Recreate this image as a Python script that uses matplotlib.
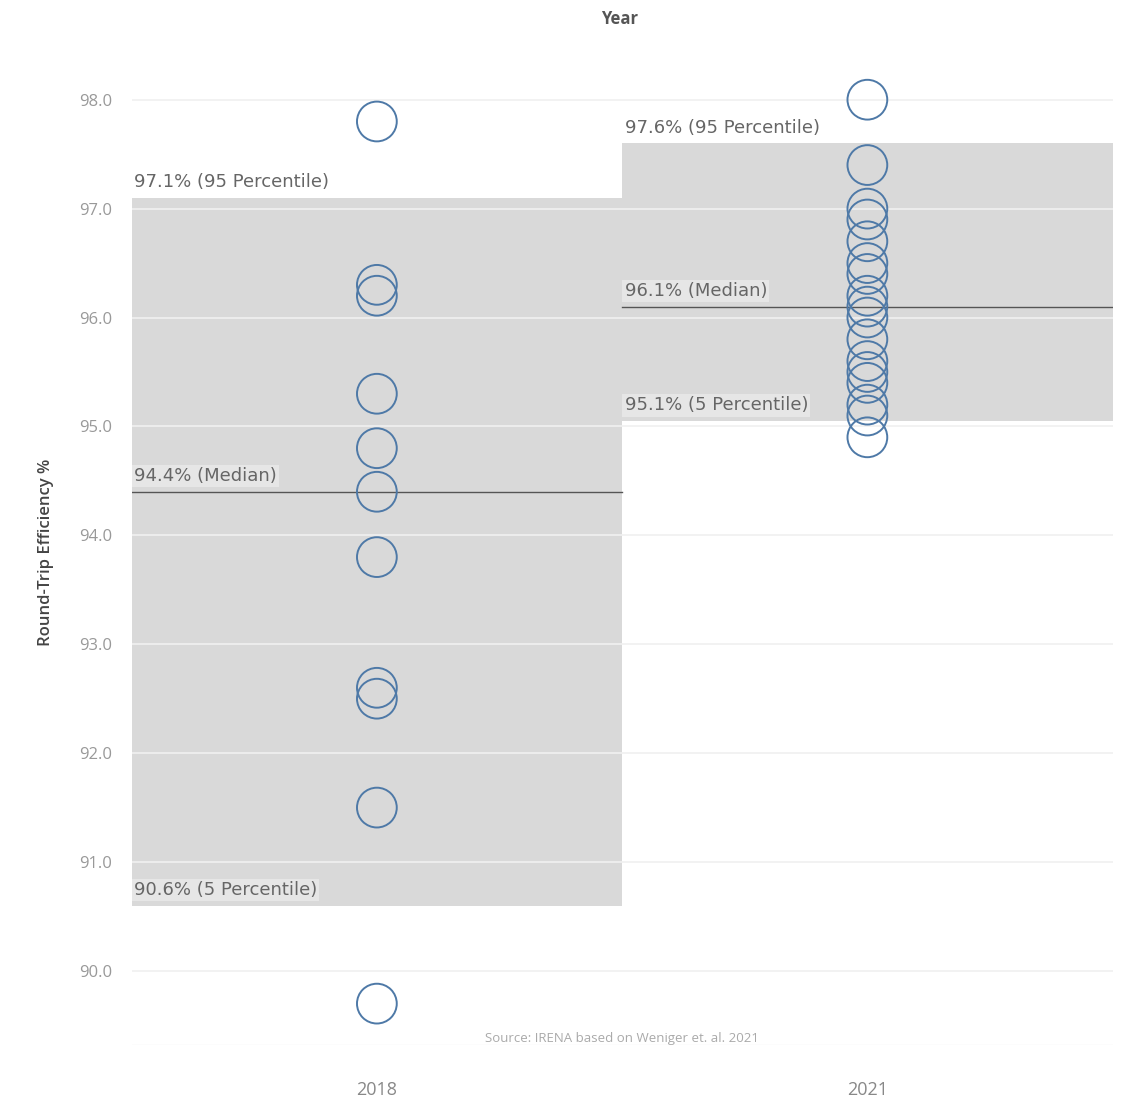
import numpy as np
import matplotlib
matplotlib.use("Agg")
import matplotlib.pyplot as plt

plt.rcParams['font.family'] = ['Open Sans', 'DejaVu Sans']

# data
years = ["2018", "2021"]
eff_2018 = [97.8, 96.3, 96.2, 95.3, 94.8, 94.4, 93.8, 92.6, 92.5, 91.5, 89.7]
eff_2021 = [98.0, 97.4, 97.0, 96.9, 96.7, 96.5, 96.4, 96.2, 96.1, 96.0,
            95.8, 95.6, 95.5, 95.4, 95.2, 95.1, 94.9]
p95 = [97.1, 97.6]
median = [94.4, 96.1]
p5 = [90.6, 95.05]
p95_labels = ["97.1% (95 Percentile)", "97.6% (95 Percentile)"]
median_labels = ["94.4% (Median)", "96.1% (Median)"]
p5_labels = ["90.6% (5 Percentile)", "95.1% (5 Percentile)"]
yticks = [90.0, 91.0, 92.0, 93.0, 94.0, 95.0, 96.0, 97.0, 98.0]

fig = plt.figure(figsize=(11.25, 11), dpi=100)
ax = fig.add_axes([0.117, 0.05, 0.872, 0.895])

ax.set_xlim(-0.5, 1.5)
ax.set_ylim(89.32, 98.36)

lab_font = dict(fontsize=13, color="#666666", family="DejaVu Sans")

# reference bands (5th to 95th percentile) and median lines
for i in range(len(years)):
    ax.fill_between([i - 0.5, i + 0.5], p5[i], p95[i], color="#d9d9d9", lw=0, zorder=1)
    ax.plot([i - 0.5, i + 0.5], [median[i], median[i]], color="#555555", lw=1.0, zorder=3)
    box = dict(facecolor="white", alpha=0.35, edgecolor="none", pad=1.5)
    ax.text(i - 0.495, p95[i] + 0.06, p95_labels[i], ha="left", va="bottom",
            bbox=box, zorder=4, **lab_font)
    ax.text(i - 0.495, median[i] + 0.06, median_labels[i], ha="left", va="bottom",
            bbox=box, zorder=4, **lab_font)
    ax.text(i - 0.495, p5[i] + 0.06, p5_labels[i], ha="left", va="bottom",
            bbox=box, zorder=4, **lab_font)

# gridlines
for t in yticks:
    ax.axhline(t, color="#f0f0f0", lw=1.2, zorder=2)

ax.scatter([0] * len(eff_2018), eff_2018, s=820, facecolors="none",
           edgecolors="#4e79a7", linewidths=1.4, zorder=5)
ax.scatter([1] * len(eff_2021), eff_2021, s=820, facecolors="none",
           edgecolors="#4e79a7", linewidths=1.4, zorder=5)

ax.set_yticks(yticks)
ax.set_yticklabels([f"{t:.1f}" for t in yticks], color="#999999", fontsize=12)
ax.set_xticks([0, 1])
ax.set_xticklabels(years, color="#888888", fontsize=13)
ax.tick_params(length=0, pad=14)
ax.tick_params(axis="x", pad=26)
for s in ax.spines.values():
    s.set_visible(False)
ax.axhline(89.32, color="#f0f0f0", lw=1, zorder=2)

ax.set_ylabel("Round-Trip Efficiency %", fontsize=12, color="#444444",
              fontweight="semibold", labelpad=18)
fig.text(0.551, 0.983, "Year", ha="center", va="center", fontsize=12,
         color="#555555", fontweight="bold")

ax.text(0.5, 89.38, "Source: IRENA based on Weniger et. al. 2021", ha="center",
        va="center", fontsize=9.5, color="#aaaaaa", zorder=6)

fig.savefig("out.png", dpi=100)
